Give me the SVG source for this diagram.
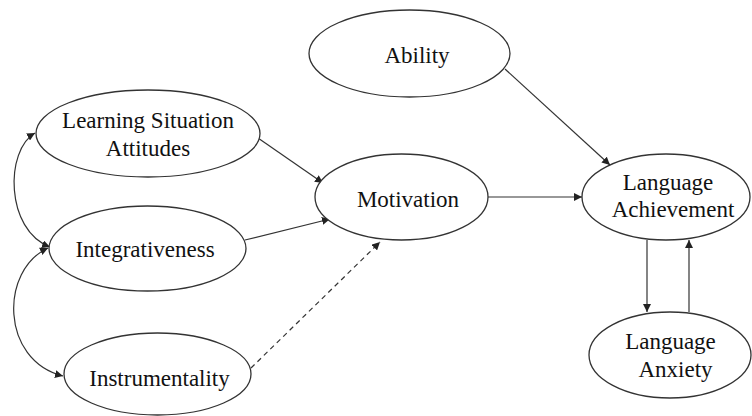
<svg xmlns="http://www.w3.org/2000/svg" width="752" height="416" viewBox="0 0 752 416">
<defs>
<marker id="ah" viewBox="0 0 10 10" refX="10" refY="5" markerWidth="8" markerHeight="8" markerUnits="userSpaceOnUse" orient="auto-start-reverse">
<path d="M0,0 L10,5 L0,10 z" fill="#222"/>
</marker>
<style>
.n ellipse{fill:#fff;stroke:#333;stroke-width:1.3}
.n text{font-family:"Liberation Serif","Times New Roman",serif;font-size:23px;fill:#111;text-anchor:middle}
.c path{fill:none;stroke:#333;stroke-width:1.2}
.d{stroke-dasharray:5,4}
</style>
</defs>
<rect width="752" height="416" fill="#fff"/>
<g class="c">
<path d="M258,138 L323,183" marker-end="url(#ah)"/>
<path d="M245,240 L330,219" marker-end="url(#ah)"/>
<path class="d" d="M251,368 L380,242" marker-end="url(#ah)"/>
<path d="M488,197 L582,197" marker-end="url(#ah)"/>
<path d="M505,69 L610,165" marker-end="url(#ah)"/>
<path d="M647,240 L647,312" marker-end="url(#ah)"/>
<path d="M689,312 L689,240" marker-end="url(#ah)"/>
<path d="M35,133 C5,150 5,230 50,247" marker-start="url(#ah)" marker-end="url(#ah)"/>
<path d="M48,248 C0,270 0,360 63,376" marker-start="url(#ah)" marker-end="url(#ah)"/>
</g>
<g id="lsa" class="n"><ellipse cx="148" cy="133.5" rx="112" ry="43.5"/><text x="148" y="128">Learning Situation</text><text x="148" y="156">Attitudes</text></g>
<g id="integ" class="n"><ellipse cx="147.5" cy="248.5" rx="98.5" ry="42.5"/><text x="145" y="257">Integrativeness</text></g>
<g id="instr" class="n"><ellipse cx="157.5" cy="374" rx="93.5" ry="41"/><text x="159.5" y="386">Instrumentality</text></g>
<g id="ability" class="n"><ellipse cx="409.5" cy="53.5" rx="100.5" ry="43.5"/><text x="417" y="63">Ability</text></g>
<g id="motiv" class="n"><ellipse cx="401.5" cy="197" rx="86.5" ry="43"/><text x="408" y="207">Motivation</text></g>
<g id="achieve" class="n"><ellipse cx="666" cy="197" rx="84" ry="43"/><text x="668" y="190">Language</text><text x="673" y="217">Achievement</text></g>
<g id="anxiety" class="n"><ellipse cx="670" cy="355" rx="81" ry="43"/><text x="670.5" y="349">Language</text><text x="675.5" y="377">Anxiety</text></g>
</svg>
